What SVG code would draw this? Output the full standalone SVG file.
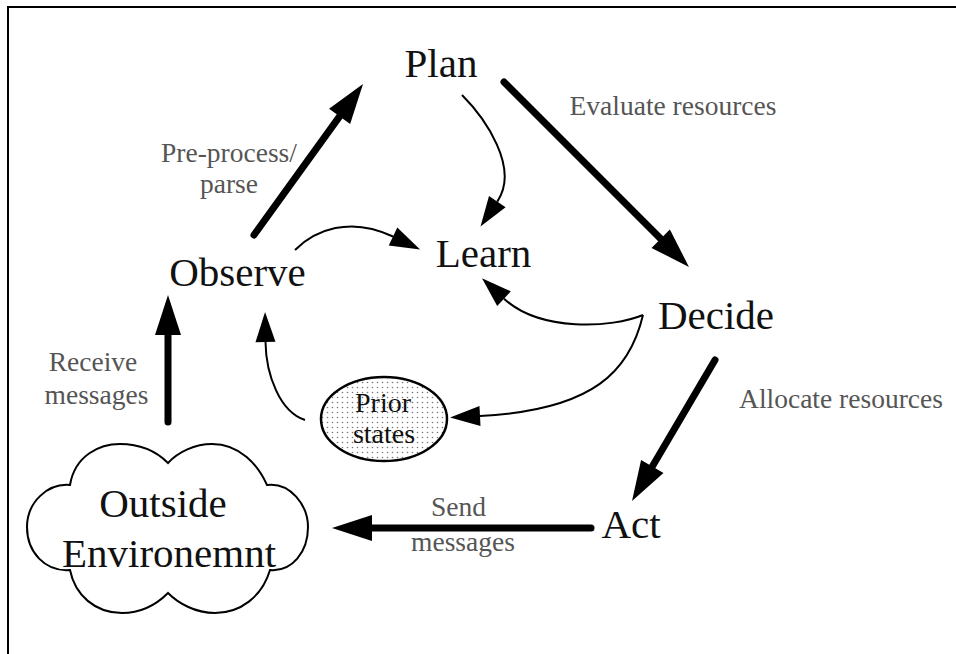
<svg xmlns="http://www.w3.org/2000/svg" width="956" height="654" viewBox="0 0 956 654">
<style>
.node{font-size:41px;fill:#111;text-anchor:middle}
.lbl{font-size:27.5px;fill:#555;text-anchor:middle}
.thick{fill:none;stroke:#000;stroke-width:7;stroke-linecap:round}
.thin{fill:none;stroke:#000;stroke-width:2}
</style>
<defs>
<marker id="hb" markerUnits="userSpaceOnUse" markerWidth="44" markerHeight="30" viewBox="0 -15 44 30" refX="0" refY="0" orient="auto" overflow="visible">
<path d="M0,-13 L40,0 L0,13 Z" fill="#000"/>
</marker>
<marker id="hs" markerUnits="userSpaceOnUse" markerWidth="34" markerHeight="24" viewBox="0 -12 34 24" refX="0" refY="0" orient="auto" overflow="visible">
<path d="M0,-10 L30,0 L0,10 Z" fill="#000"/>
</marker>
<pattern id="dots" width="5" height="5" patternUnits="userSpaceOnUse">
<circle cx="2.5" cy="2.5" r="0.8" fill="#777"/>
</pattern>
</defs>
<rect width="956" height="654" fill="#fff"/>
<path d="M8,654 L8,7 L956,7" fill="none" stroke="#000" stroke-width="2"/>
<g font-family="Liberation Serif, DejaVu Serif, Times New Roman, serif">
<g id="connectors">
<path class="thick" d="M254,235 L339.6,116.4" marker-end="url(#hb)"/>
<path class="thick" d="M504,82 L660.7,238.7" marker-end="url(#hb)"/>
<path class="thick" d="M715,360 L652.3,466.5" marker-end="url(#hb)"/>
<path class="thick" d="M591,528 L372,528" marker-end="url(#hb)"/>
<path class="thick" d="M168,422 L168,335" marker-end="url(#hb)"/>
<path class="thin" d="M295,250 C315,230 350,216 393,236.5" marker-end="url(#hs)"/>
<path class="thin" d="M462,95 C485,118 520,168 497.3,201.6" marker-end="url(#hs)"/>
<path class="thin" d="M643,315 C612,328 540,332 504,298.7" marker-end="url(#hs)"/>
<path class="thin" d="M643,315 C630,370 595,410 480,416" marker-end="url(#hs)"/>
<path class="thin" d="M305,420 C280,412 266,375 265.5,342" marker-end="url(#hs)"/>
<text class="lbl" x="673" y="115">Evaluate resources</text>
<text class="lbl" x="229" y="162">Pre-process/</text>
<text class="lbl" x="229" y="193">parse</text>
<text class="lbl" x="93" y="371">Receive</text>
<text class="lbl" x="96.5" y="404">messages</text>
<text class="lbl" x="841" y="408">Allocate resources</text>
<text class="lbl" x="458.5" y="516">Send</text>
<text class="lbl" x="463" y="551">messages</text>
</g>
<g id="plan"><text class="node" x="441" y="77">Plan</text></g>
<g id="observe"><text class="node" x="237.5" y="286">Observe</text></g>
<g id="learn"><text class="node" x="483.5" y="267">Learn</text></g>
<g id="decide"><text class="node" x="716" y="329">Decide</text></g>
<g id="act"><text class="node" x="631" y="538">Act</text></g>
<g id="prior">
<ellipse cx="384" cy="419" rx="63" ry="42" fill="url(#dots)" stroke="#000" stroke-width="2.5"/>
<text class="node" style="font-size:28px" x="383" y="412">Prior</text>
<text class="node" style="font-size:28px" x="384" y="443">states</text>
</g>
<g id="outside">
<path d="M70,485 C75,455 100,444 120,444 C145,444 160,455 168,463 C178,452 195,444 212,444 C240,444 258,465 267,485 C290,482 308,505 308,527 C308,552 292,572 270,570 C262,597 240,613 215,613 C195,613 178,603 168,593 C158,603 142,613 122,613 C95,613 75,595 70,570 C45,572 27,552 27,527 C27,502 48,483 70,485 Z" fill="#fff" stroke="#000" stroke-width="2"/>
<text class="node" x="163" y="517">Outside</text>
<text class="node" x="169" y="567">Environemnt</text>
</g>
</g>
</svg>
